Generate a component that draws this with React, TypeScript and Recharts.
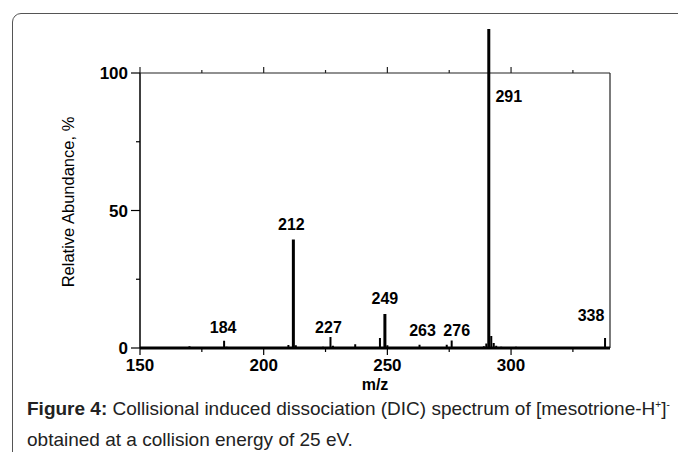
import { ComposedChart, Line, XAxis, YAxis, ReferenceLine, ReferenceDot } from 'recharts';

// m/z of the sticks and their relative abundance (%)
const mainMz = [212, 249, 291];
const mainAbund = [39.5, 12.4, 116];
const minorMz = [170, 172, 184, 185, 196, 210, 213, 214, 222, 224, 227, 228, 237, 247, 250, 263, 274, 276, 289, 290, 292, 293, 294, 296, 299, 302, 338];
const minorAbund = [0.6, 0.3, 2.6, 0.5, 0.3, 1.1, 1.0, 0.4, 0.4, 0.5, 4.0, 0.8, 1.4, 3.6, 1.0, 1.2, 1.2, 2.7, 0.6, 1.6, 4.4, 1.8, 0.8, 0.5, 0.4, 0.5, 3.6];

// labelled peaks
const peakLabels = [184, 212, 227, 249, 263, 276, 291, 338];

const xTicks = [150, 175, 200, 225, 250, 275, 300, 325];
const yTicks = [0, 25, 50, 75, 100];
const xDomain = [150, 340];
const yDomain = [0, 116];

// label nudges (px) relative to the peak top
const labelNudge: Record<number, [number, number]> = {
  184: [-1, -8],
  212: [-2, -9],
  227: [-2, -4],
  249: [0, -10],
  263: [3, -9],
  276: [5, -5],
  291: [20, 73],
  338: [-14, -17],
};

const toSticks = (mz: number[], ab: number[]) => {
  const pts: { mz: number; v: number }[] = [{ mz: xDomain[0], v: 0 }];
  mz.forEach((m, i) => {
    pts.push({ mz: m, v: 0 }, { mz: m, v: ab[i] }, { mz: m, v: 0 });
  });
  pts.push({ mz: xDomain[1], v: 0 });
  return pts;
};

const mainData = toSticks(mainMz, mainAbund);
const minorData = toSticks(minorMz, minorAbund);

const abundOf = (m: number) => {
  const i = mainMz.indexOf(m);
  if (i >= 0) return mainAbund[i];
  return minorAbund[minorMz.indexOf(m)];
};

const FONT = '"Liberation Sans", Arial, sans-serif';

const XTick = (props: any) => {
  const { x, y, payload } = props;
  const major = payload.value % 50 === 0;
  return (
    <g>
      <line x1={x} x2={x} y1={y} y2={y + (major ? 7 : 4)} stroke="#000" strokeWidth={1.2} />
      {major && (
        <text x={x} y={y + 23} textAnchor="middle" fontFamily={FONT} fontWeight="bold" fontSize={17} fill="#000">
          {payload.value}
        </text>
      )}
    </g>
  );
};

const YTick = (props: any) => {
  const { x, y, payload } = props;
  const major = payload.value % 50 === 0;
  return (
    <g>
      <line x1={x - (major ? 9 : 4)} x2={x} y1={y} y2={y} stroke="#000" strokeWidth={1.2} />
      {major && (
        <text x={x - 12} y={y + 6} textAnchor="end" fontFamily={FONT} fontWeight="bold" fontSize={17} fill="#000">
          {payload.value}
        </text>
      )}
    </g>
  );
};

// top frame line with upward ticks
const TopFrame = (props: any) => {
  const { x1, y1, x2, y2 } = props;
  const span = xDomain[1] - xDomain[0];
  return (
    <g>
      <line x1={x1} y1={y1} x2={x2} y2={y2} stroke="#222" strokeWidth={1.2} />
      {xTicks.map((t) => {
        const px = x1 + ((t - xDomain[0]) / span) * (x2 - x1);
        const major = t % 50 === 0;
        return <line key={t} x1={px} x2={px} y1={y1} y2={y1 - (major ? 6 : 3)} stroke="#222" strokeWidth={1.2} />;
      })}
    </g>
  );
};

const PeakLabel = (m: number) => (props: any) => {
  const { cx, cy } = props;
  const [dx, dy] = labelNudge[m];
  return (
    <text x={cx + dx} y={cy + dy} textAnchor="middle" fontFamily={FONT} fontWeight="bold" fontSize={16} fill="#000">
      {m}
    </text>
  );
};

const YTitle = () => (
  <text
    x={68}
    y={202}
    transform="rotate(-90 68 202)"
    textAnchor="middle"
    dominantBaseline="central"
    fontFamily={FONT}
    fontSize={16.5}
    fill="#000"
  >
    Relative Abundance, %
  </text>
);

export default function App() {
  return (
    <div style={{ position: 'absolute', left: 0, top: 0, width: 678, height: 452, overflow: 'hidden', background: '#fff' }}>
      <div
        style={{
          position: 'absolute',
          left: 12,
          top: 13,
          width: 720,
          height: 520,
          border: '1.5px solid #555',
          borderRadius: 9,
        }}
      />
      <div style={{ position: 'absolute', left: 0, top: 0 }}>
        <ComposedChart width={678} height={400} margin={{ top: 29, right: 68, bottom: 22, left: 80 }}>
          <XAxis
            type="number"
            dataKey="mz"
            domain={xDomain}
            ticks={xTicks}
            interval={0}
            height={30}
            tickSize={0}
            tickMargin={0}
            tickLine={false}
            tick={<XTick />}
            axisLine={{ stroke: '#000', strokeWidth: 2 }}
            label={{ value: 'm/z', position: 'insideBottom', offset: -12, fontFamily: FONT, fontWeight: 'bold', fontSize: 16, fill: '#000' }}
          />
          <YAxis
            type="number"
            domain={yDomain}
            ticks={yTicks}
            interval={0}
            width={60}
            tickSize={0}
            tickMargin={0}
            tickLine={false}
            axisLine={false}
            tick={<YTick />}
            label={{ content: () => <YTitle /> }}
          />
          <ReferenceLine segment={[{ x: 150, y: 0 }, { x: 150, y: 100 }]} stroke="#000" strokeWidth={1.5} />
          <ReferenceLine segment={[{ x: 340, y: 0 }, { x: 340, y: 100 }]} stroke="#222" strokeWidth={1.2} />
          <ReferenceLine segment={[{ x: 150, y: 100 }, { x: 340, y: 100 }]} shape={(p: any) => <TopFrame {...p} />} />
          <Line data={minorData} dataKey="v" type="linear" stroke="#000" strokeWidth={2} dot={false} isAnimationActive={false} />
          <Line data={mainData} dataKey="v" type="linear" stroke="#000" strokeWidth={3} dot={false} isAnimationActive={false} />
          {peakLabels.map((m) => (
            <ReferenceDot key={m} x={m} y={abundOf(m)} r={0} shape={PeakLabel(m)} />
          ))}
        </ComposedChart>
      </div>
      <div
        style={{
          position: 'absolute',
          left: 27,
          top: 389,
          width: 660,
          fontFamily: FONT,
          fontSize: 19,
          lineHeight: '31px',
          color: '#222',
          whiteSpace: 'nowrap',
        }}
      >
        <b>Figure 4:</b> Collisional induced dissociation (DIC) spectrum of [mesotrione-H<sup style={{ fontSize: 10 }}>+</sup>]
        <sup style={{ fontSize: 10 }}>-</sup>
        <br />
        obtained at a collision energy of 25 eV.
      </div>
    </div>
  );
}
